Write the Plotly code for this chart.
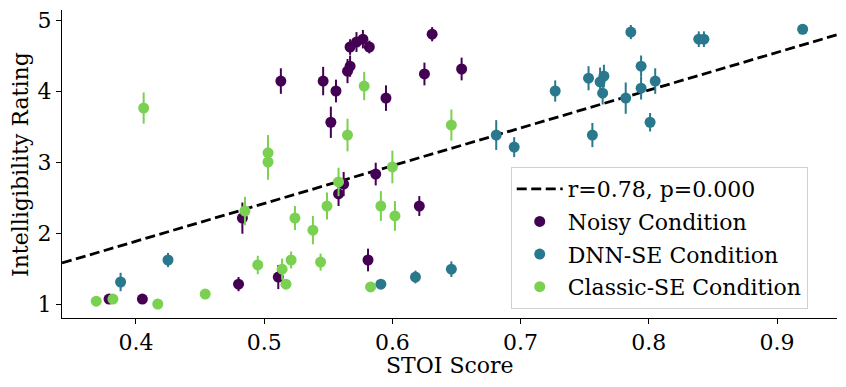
import plotly.graph_objects as go

# Noisy condition
noisy_x = [0.379, 0.405, 0.480, 0.483, 0.511, 0.558, 0.562, 0.587, 0.581, 0.621,
           0.513, 0.546, 0.556, 0.552, 0.565, 0.567, 0.567, 0.572, 0.577, 0.582,
           0.595, 0.625, 0.631, 0.654]
noisy_y = [1.07, 1.07, 1.28, 2.21, 1.38, 2.55, 2.69, 2.83, 1.62, 2.38,
           4.14, 4.14, 4.00, 3.56, 4.28, 4.35, 4.62, 4.69, 4.73, 4.62,
           3.90, 4.24, 4.80, 4.31]
noisy_err = [0.03, 0.03, 0.10, 0.22, 0.17, 0.17, 0.17, 0.16, 0.16, 0.14,
             0.18, 0.20, 0.16, 0.22, 0.17, 0.15, 0.11, 0.14, 0.13, 0.09,
             0.18, 0.16, 0.10, 0.16]

# DNN-SE condition
dnn_x = [0.388, 0.425, 0.591, 0.618, 0.646, 0.681, 0.695, 0.727, 0.753, 0.756,
         0.762, 0.765, 0.764, 0.786, 0.782, 0.794, 0.794, 0.801, 0.805, 0.839,
         0.843, 0.920]
dnn_y = [1.31, 1.62, 1.28, 1.38, 1.49, 3.38, 3.21, 4.00, 4.18, 3.38,
         4.13, 4.21, 3.97, 4.83, 3.90, 4.35, 4.04, 3.56, 4.14, 4.73,
         4.73, 4.87]
dnn_err = [0.13, 0.10, 0.05, 0.09, 0.11, 0.21, 0.14, 0.15, 0.17, 0.17,
           0.20, 0.16, 0.16, 0.10, 0.22, 0.15, 0.16, 0.13, 0.18, 0.11,
           0.11, 0.03]

# Classic-SE condition
classic_x = [0.369, 0.382, 0.417, 0.454, 0.485, 0.495, 0.503, 0.503, 0.514, 0.517,
             0.521, 0.524, 0.538, 0.544, 0.549, 0.558, 0.583, 0.591, 0.600, 0.602,
             0.578, 0.565, 0.646, 0.406]
classic_y = [1.04, 1.07, 1.00, 1.14, 2.31, 1.55, 3.00, 3.13, 1.49, 1.28,
             1.62, 2.21, 2.04, 1.59, 2.38, 2.72, 1.24, 2.38, 2.93, 2.24,
             4.07, 3.38, 3.52, 3.76]
classic_err = [0.03, 0.03, 0.03, 0.04, 0.20, 0.13, 0.25, 0.25, 0.15, 0.04,
               0.12, 0.17, 0.20, 0.12, 0.19, 0.20, 0.05, 0.21, 0.23, 0.21,
               0.20, 0.23, 0.22, 0.22]

# regression line
x_range = [0.3423, 0.9468]
y_range = [0.803, 5.141]
slope = 5.318
intercept = -0.243
r_label = "r=0.78, p=0.000"

x_ticks = [0.4, 0.5, 0.6, 0.7, 0.8, 0.9]
x_ticklabels = ["0.4", "0.5", "0.6", "0.7", "0.8", "0.9"]
y_ticks = [1, 2, 3, 4, 5]

FONT = "DejaVu Serif"
FS = 22
colors = {"noisy": "#440154", "dnn": "#2a788e", "classic": "#7ad151"}

fig = go.Figure()
fig.add_trace(go.Scatter(
    x=x_range, y=[slope * v + intercept for v in x_range], mode="lines",
    line=dict(color="black", width=2.8, dash="10px,4.5px"), name=r_label,
    legendgroup="g0"))

for i, (name, xs, ys, es, key) in enumerate([
    ("Noisy Condition", noisy_x, noisy_y, noisy_err, "noisy"),
    ("DNN-SE Condition", dnn_x, dnn_y, dnn_err, "dnn"),
    ("Classic-SE Condition", classic_x, classic_y, classic_err, "classic"),
]):
    fig.add_trace(go.Scatter(
        x=xs, y=ys, mode="markers", name=name, legendgroup=f"g{i+1}",
        marker=dict(color=colors[key], size=11, line=dict(width=0)),
        error_y=dict(type="data", array=es, visible=True, thickness=2, width=0,
                     color=colors[key])))

axis_common = dict(showgrid=False, zeroline=False, showline=True, linecolor="black",
                   linewidth=1, ticks="outside", ticklen=5, tickcolor="black",
                   automargin=False,
                   tickfont=dict(family=FONT, size=FS, color="black"))
fig.update_xaxes(range=x_range, tickvals=x_ticks, ticktext=x_ticklabels, **axis_common)
fig.update_yaxes(range=y_range, tickvals=y_ticks, **axis_common)

fig.add_annotation(text="STOI Score", xref="paper", yref="paper", x=0.5, y=-0.1526,
                   xanchor="center", yanchor="middle", showarrow=False,
                   font=dict(family=FONT, size=FS, color="black"))
fig.add_annotation(text="Intelligibility Rating", xref="paper", yref="paper",
                   x=-0.0542, y=0.5, xanchor="center", yanchor="middle", textangle=-90,
                   showarrow=False, font=dict(family=FONT, size=FS, color="black"))

fig.update_layout(
    width=846, height=387,
    margin=dict(l=62, r=9, t=10, b=69),
    plot_bgcolor="white", paper_bgcolor="white",
    font=dict(family=FONT, size=FS, color="black"),
    legend=dict(x=0.579, y=0.490, xanchor="left", yanchor="top",
                bgcolor="white", bordercolor="#d0d0d0", borderwidth=1,
                font=dict(family=FONT, size=FS, color="black"),
                traceorder="grouped", tracegroupgap=1, itemwidth=46),
    showlegend=True,
)

fig.write_html("out.html", config={"displayModeBar": False},
               post_script="document.body.style.margin='0';document.body.style.overflow='hidden';")
